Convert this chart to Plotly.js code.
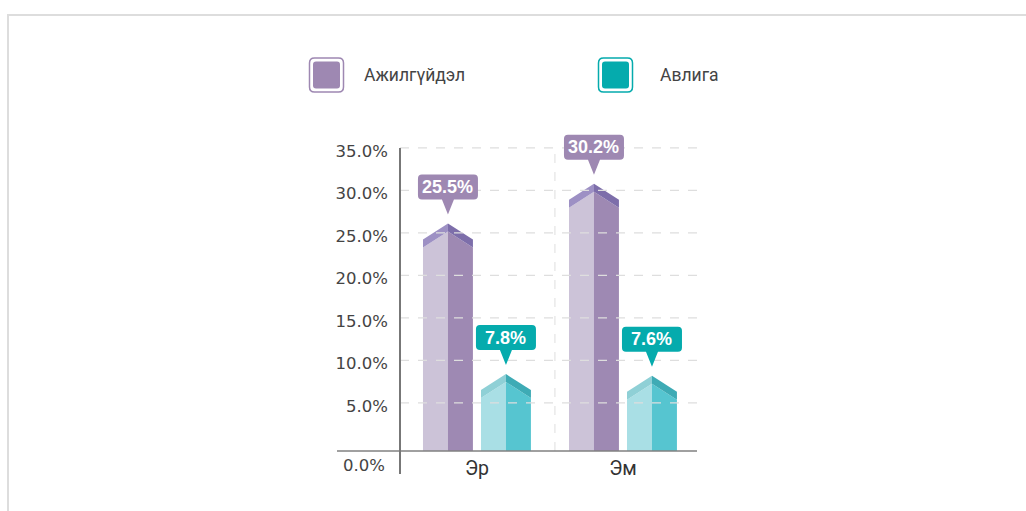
<!DOCTYPE html>
<html><head><meta charset="utf-8">
<script src="https://cdn.plot.ly/plotly-3.0.1.min.js"></script>
<style>html,body{margin:0;padding:0;background:#fff;} #chart{width:1026px;height:511px;}</style>
</head><body><div id="chart"></div>
<script>
// ---- data ----
const categories = ["Эр", "Эм"];
const seriesNames = ["Ажилгүйдэл", "Авлига"];
const unemployment = [25.5, 30.2];
const corruption = [7.8, 7.6];
const yTicks = [0, 5, 10, 15, 20, 25, 30, 35];

// ---- layout geometry ----
const W = 1026, H = 511, M = {l: 400, r: 329, t: 105, b: 60};
const PW = W - M.l - M.r, PH = H - M.t - M.b;
const pxPerUnit = 8.5;
const yMin = -0.65, yMax = yMin + PH / pxPerUnit;
const yTop = yTicks[yTicks.length - 1];
const xRange = [-0.527, 1.507];
const barOffset = 0.1986, barHalf = 0.171;
const roofThick = 0.94, roofDrop = 1.88, peakLift = 0.6;
const px2x = p => (p - M.l) / PW;
const px2y = p => (H - M.b - p) / PH;
const d2py = v => (v - yMin) / (yMax - yMin);

const styles = [
  {light: '#ccc3d8', dark: '#9e89b3', roofL: '#9d90c4', roofR: '#7d6eaa', label: '#9e88b2'},
  {light: '#a9dfe5', dark: '#56c5d0', roofL: '#8fd0d6', roofR: '#3eabb5', label: '#05abad'}
];
const seriesValues = [unemployment, corruption];

const traces = [];
const shapes = [];
const annotations = [];

function poly(xs, ys, color) {
  traces.push({type: 'scatter', x: xs.concat([xs[0]]), y: ys.concat([ys[0]]), mode: 'lines',
    line: {width: 0, color: color}, fill: 'toself', fillcolor: color, hoverinfo: 'skip', showlegend: false});
}
function rr(w, h, r, cx, cy) { // rounded rect path in pixel offsets (y up)
  const x0 = cx - w / 2, x1 = cx + w / 2, y0 = cy - h / 2, y1 = cy + h / 2;
  return `M ${x0 + r} ${y0} L ${x1 - r} ${y0} Q ${x1} ${y0} ${x1} ${y0 + r} L ${x1} ${y1 - r} Q ${x1} ${y1} ${x1 - r} ${y1} L ${x0 + r} ${y1} Q ${x0} ${y1} ${x0} ${y1 - r} L ${x0} ${y0 + r} Q ${x0} ${y0} ${x0 + r} ${y0} Z`;
}

// horizontal dashed gridlines (drawn above bars)
yTicks.slice(1).forEach(t => {
  shapes.push({type: 'line', xref: 'paper', yref: 'y', x0: 0, x1: 1, y0: t, y1: t,
    line: {color: '#dedede', width: 1.3, dash: 'dash'}, layer: 'above'});
});

seriesValues.forEach((vals, s) => {
  const st = styles[s];
  vals.forEach((v, i) => {
    const c = i + (s === 0 ? -1 : 1) * barOffset;
    const xl = c - barHalf, xr = c + barHalf;
    const P = v + peakLift, innerPeak = P - roofThick, outerSide = P - roofDrop, innerSide = outerSide - roofThick;
    poly([xl, xl, c, c], [yMin, innerSide, innerPeak, yMin], st.light);
    poly([c, c, xr, xr], [yMin, innerPeak, innerSide, yMin], st.dark);
    poly([xl, xl, c, c], [innerSide, outerSide, P, innerPeak], st.roofL);
    poly([c, c, xr, xr], [innerPeak, P, outerSide, innerSide], st.roofR);
    // callout
    shapes.push({type: 'path', xref: 'x', yref: 'y', xsizemode: 'pixel', ysizemode: 'pixel', xanchor: c, yanchor: P,
      path: 'M 0 9 L -6 24 L -26 24 Q -30 24 -30 28 L -30 45 Q -30 49 -26 49 L 26 49 Q 30 49 30 45 L 30 28 Q 30 24 26 24 L 6 24 Z',
      fillcolor: st.label, line: {width: 0}, layer: 'above'});
    annotations.push({x: c, y: P, xref: 'x', yref: 'y', yshift: 36.5, showarrow: false,
      text: '<b>' + v.toFixed(1) + '%</b>', font: {family: 'Liberation Sans', size: 18, color: '#ffffff'}});
  });
});

// vertical dashed gridline
shapes.push({type: 'line', xref: 'x', yref: 'paper', x0: 0.534, x1: 0.534, y0: 0, y1: d2py(yTop),
  line: {color: '#e6e6e6', width: 1.3, dash: 'dash'}, layer: 'below'});
// axis lines
shapes.push({type: 'line', xref: 'paper', yref: 'paper', x0: px2x(337), x1: 1, y0: 0, y1: 0,
  line: {color: '#808080', width: 1.5}, layer: 'above'});
shapes.push({type: 'line', xref: 'paper', yref: 'paper', x0: 0, x1: 0, y0: px2y(474), y1: d2py(yTop),
  line: {color: '#777777', width: 2}, layer: 'above'});
// card border
shapes.push({type: 'line', xref: 'paper', yref: 'paper', x0: px2x(7), x1: px2x(1030), y0: px2y(15), y1: px2y(15),
  line: {color: '#dddddd', width: 2}});
shapes.push({type: 'line', xref: 'paper', yref: 'paper', x0: px2x(8), x1: px2x(8), y0: px2y(14), y1: px2y(515),
  line: {color: '#dddddd', width: 2}});

// legend
const legendX = [326.5, 615.5], legendTextX = [362, 658], legendY = 75;
seriesNames.forEach((name, s) => {
  shapes.push({type: 'path', xref: 'paper', yref: 'paper', xsizemode: 'pixel', ysizemode: 'pixel',
    xanchor: px2x(legendX[s]), yanchor: px2y(legendY), path: rr(34, 34, 5, 0, 0),
    fillcolor: '#ffffff', line: {color: styles[s].label, width: 1.5}});
  shapes.push({type: 'path', xref: 'paper', yref: 'paper', xsizemode: 'pixel', ysizemode: 'pixel',
    xanchor: px2x(legendX[s]), yanchor: px2y(legendY), path: rr(27, 27, 3, 0, 0),
    fillcolor: styles[s].label, line: {width: 0}});
  annotations.push({xref: 'paper', yref: 'paper', x: px2x(legendTextX[s]), y: px2y(legendY), xanchor: 'left', yanchor: 'middle',
    showarrow: false, text: name, font: {family: 'Roboto', size: 17.5, color: '#444444'}});
});

// 0.0% label (offset below baseline)
annotations.push({xref: 'paper', yref: 'y', x: 0, y: 0, xanchor: 'right', yanchor: 'middle', xshift: -13, yshift: -20,
  showarrow: false, text: yTicks[0].toFixed(1) + '%', font: {family: 'DejaVu Sans', size: 16.5, color: '#444444'}});

const layout = {
  width: W, height: H, margin: M, paper_bgcolor: '#ffffff', plot_bgcolor: 'rgba(0,0,0,0)',
  showlegend: false,
  xaxis: {range: xRange, tickvals: categories.map((c, i) => i), ticktext: categories, showgrid: false, zeroline: false,
    showline: false, ticks: '', tickfont: {family: 'Roboto', size: 19.5, color: '#333333'}, ticklabelstandoff: 3, fixedrange: true},
  yaxis: {range: [yMin, yMax], tickvals: yTicks.slice(1), ticktext: yTicks.slice(1).map(t => t.toFixed(1) + '%'),
    showgrid: false, zeroline: false, showline: false, ticks: '', ticklabelstandoff: 11, ticklabelshift: 3,
    tickfont: {family: 'DejaVu Sans', size: 16.5, color: '#444444'}, fixedrange: true},
  shapes: shapes, annotations: annotations
};
Plotly.newPlot('chart', traces, layout, {displayModeBar: false, staticPlot: true});
</script></body></html>
